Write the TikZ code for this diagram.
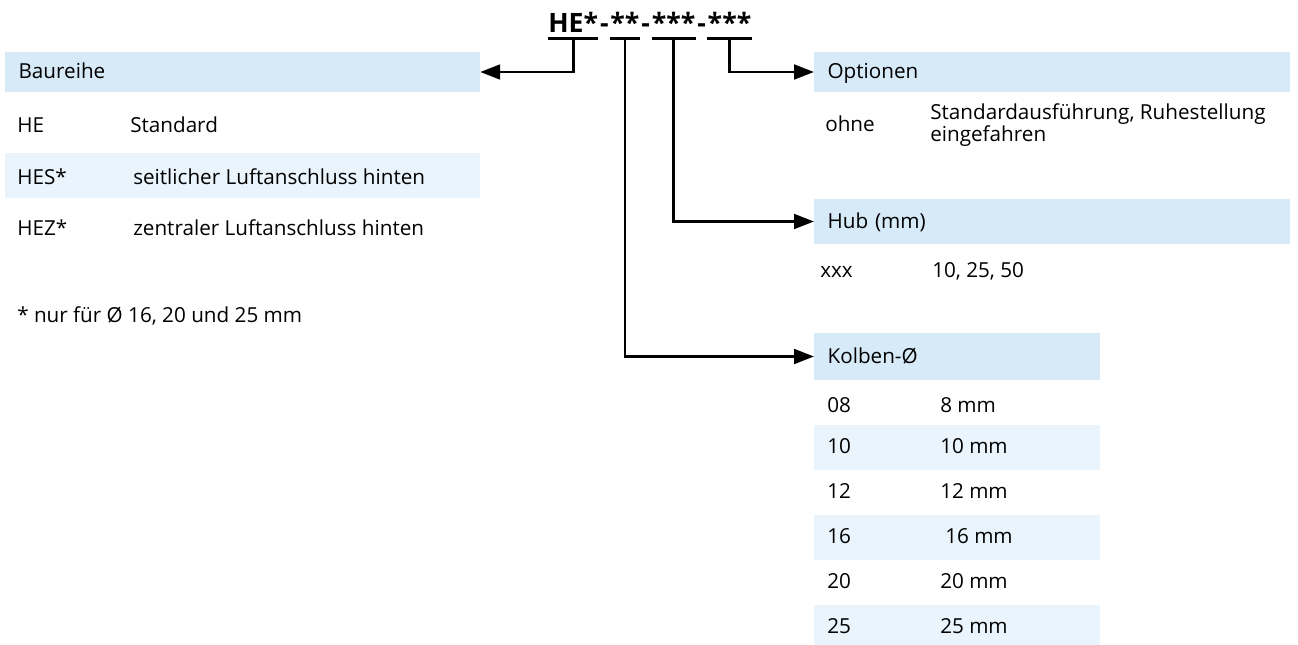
\documentclass[tikz,border=0pt]{standalone}
\usepackage{fontspec}
\setmainfont{Open Sans}
\usetikzlibrary{arrows.meta,positioning}
\definecolor{headblue}{RGB}{214,234,248}
\definecolor{rowblue}{RGB}{233,244,252}

\begin{document}
\begin{tikzpicture}[x=0.75pt,y=-0.75pt,
    every node/.style={inner sep=0pt,font=\fontsize{15.5}{16}\selectfont},
    head/.style={fill=headblue,anchor=west,inner xsep=10pt,text width=#1,align=left,
      text height=12pt,text depth=2pt},
    entry/.style={anchor=base west},
    code/.style={font=\fontsize{20}{20}\selectfont\bfseries,text height=14pt,text depth=0pt},
    uline/.style={line width=2.2pt},
    conn/.style={line width=2.2pt,-{Triangle[length=15pt,width=11pt]}}]
  \useasboundingbox (0,0) rectangle (1298,645);

  % type code
  \node[code,anchor=base west] (g1) at (548,33) {HE*};
  \node[code,right=1pt of g1] (d1) {-};
  \node[code,right=1pt of d1] (g2) {**};
  \node[code,right=1pt of g2] (d2) {-};
  \node[code,right=1pt of d2] (g3) {***};
  \node[code,right=1pt of g3] (d3) {-};
  \node[code,right=1pt of d3] (g4) {***};
  \draw[uline] ([yshift=-4pt]g1.base west) -- ([yshift=-4pt]g1.base east);
  \draw[uline] ([yshift=-4pt]g2.base west) -- ([yshift=-4pt]g2.base east);
  \draw[uline] ([yshift=-4pt]g3.base west) -- ([yshift=-4pt]g3.base east);
  \draw[uline] ([yshift=-4pt]g4.base west) -- ([yshift=-4pt]g4.base east);

  % Baureihe
  \node[head=336pt,minimum height=30pt] (baureihe) at (5,72) {Baureihe};
  \node[entry] (he) at (17,133) {HE};
  \node[entry] (he-txt) at (130,133) {Standard};
  \fill[rowblue] (5,153) rectangle (480,198);
  \node[entry] (hes) at (17,185) {HES*};
  \node[entry] (hes-txt) at (133,185) {seitlicher Luftanschluss hinten};
  \node[entry] (hez) at (17,235) {HEZ*};
  \node[entry] (hez-txt) at (133,235) {zentraler Luftanschluss hinten};
  \node[entry] (note) at (17,322) {* nur für Ø 16, 20 und 25 mm};

  % Optionen
  \node[head=337pt,minimum height=30pt] (optionen) at (814,72) {Optionen};
  \node[entry] (ohne) at (825,132) {ohne};
  \node[entry] (ohne-txt1) at (930,120) {Standardausführung, Ruhestellung};
  \node[entry] (ohne-txt2) at (930,142) {eingefahren};

  % Hub
  \node[head=337pt,minimum height=33.75pt] (hub) at (814,221.5) {Hub (mm)};
  \node[entry] (xxx) at (820,277) {xxx};
  \node[entry] (xxx-txt) at (932,277) {10, 25, 50};

  % Kolben
  \node[head=194.5pt,minimum height=35pt] (kolben) at (814,356.5) {Kolben-Ø};
  \fill[rowblue] (814,425) rectangle (1100,470);
  \fill[rowblue] (814,515) rectangle (1100,560);
  \fill[rowblue] (814,605) rectangle (1100,645);
  \node[entry] (k08) at (827,412) {08};
  \node[entry] (k08-txt) at (940,412) {8 mm};
  \node[entry] (k10) at (827,453) {10};
  \node[entry] (k10-txt) at (940,453) {10 mm};
  \node[entry] (k12) at (827,498) {12};
  \node[entry] (k12-txt) at (940,498) {12 mm};
  \node[entry] (k16) at (827,543) {16};
  \node[entry] (k16-txt) at (945,543) {16 mm};
  \node[entry] (k20) at (827,588) {20};
  \node[entry] (k20-txt) at (940,588) {20 mm};
  \node[entry] (k25) at (827,633) {25};
  \node[entry] (k25-txt) at (940,633) {25 mm};

  % connectors
  \draw[conn] ([yshift=-4pt]g1.base) |- (baureihe.east);
  \draw[conn] ([yshift=-4pt]g2.base) |- (kolben.west);
  \draw[conn] ([yshift=-4pt]g3.base) |- (hub.west);
  \draw[conn] ([yshift=-4pt]g4.base) |- (optionen.west);
\end{tikzpicture}
\end{document}
